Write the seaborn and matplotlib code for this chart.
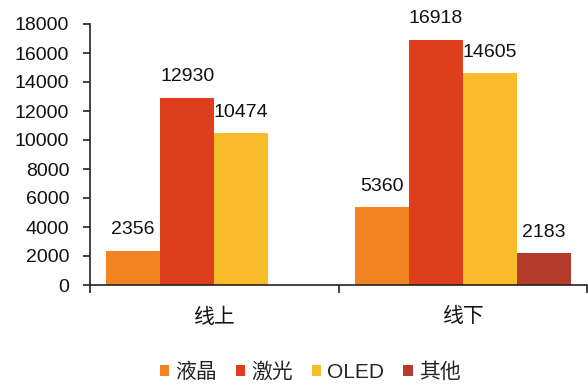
import matplotlib
matplotlib.use("Agg")
import matplotlib.pyplot as plt
import seaborn as sns
import pandas as pd
import numpy as np
from matplotlib.patches import Patch

channels = ["线上", "线下"]
products = ["液晶", "激光", "OLED", "其他"]
online = [2356, 12930, 10474, np.nan]
offline = [5360, 16918, 14605, 2183]
colors = ["#F28522", "#DE3E1C", "#FBBC2C", "#B43C2C"]
yticks = [0, 2000, 4000, 6000, 8000, 10000, 12000, 14000, 16000, 18000]

rows = []
for ch, vals in zip(channels, [online, offline]):
    for p, v in zip(products, vals):
        rows.append({"渠道": ch, "产品": p, "销量": v})
df = pd.DataFrame(rows)

sns.set_theme(style="white")
plt.rcParams["font.family"] = ["Liberation Sans", "Noto Sans CJK SC", "DejaVu Sans"]

fig = plt.figure(figsize=(5.88, 3.85), dpi=100)
ax = fig.add_axes([90 / 588, 1 - 285 / 385, (587 - 90) / 588, (285 - 24) / 385])

sns.barplot(data=df, x="渠道", y="销量", hue="产品", order=channels,
            hue_order=products, palette=colors, width=0.87, saturation=1,
            errorbar=None, legend=False, ax=ax, linewidth=0)

for cont in ax.containers:
    labels = ["" if (np.isnan(b.get_height()) or b.get_height() == 0) else f"{b.get_height():.0f}"
              for b in cont]
    ax.bar_label(cont, labels=labels, padding=9, fontsize=14, color="#111111")

ax.set_xlim(-0.5, 1.5)
ax.set_ylim(0, 18000)
ax.set_yticks(yticks)
ax.set_yticklabels([str(t) for t in yticks], fontsize=14, color="#111111")
ax.set_xlabel("")
ax.set_ylabel("")
ax.tick_params(axis="x", which="major", length=0, labelsize=15, pad=16, labelcolor="#111111")
ax.set_xticks([-0.5, 0.5, 1.5], minor=True)
ax.tick_params(axis="x", which="minor", length=6, width=1.2, color="#222222", direction="out", bottom=True)
ax.tick_params(axis="y", length=5, width=1.2, color="#222222", direction="out", left=True, pad=10)

for s in ["top", "right"]:
    ax.spines[s].set_visible(False)
for s in ["left", "bottom"]:
    ax.spines[s].set_color("#222222")
    ax.spines[s].set_linewidth(1.2)

handles = [Patch(facecolor=c, edgecolor="none", label=p) for p, c in zip(products, colors)]
fig.legend(handles=handles, loc="center", bbox_to_anchor=(310 / 588, 1 - 372 / 385), ncol=4,
           frameon=False, fontsize=15, handlelength=0.45, handleheight=0.45,
           handletextpad=0.3, columnspacing=0.9, borderpad=0, borderaxespad=0)

fig.savefig("out.png", dpi=100)
